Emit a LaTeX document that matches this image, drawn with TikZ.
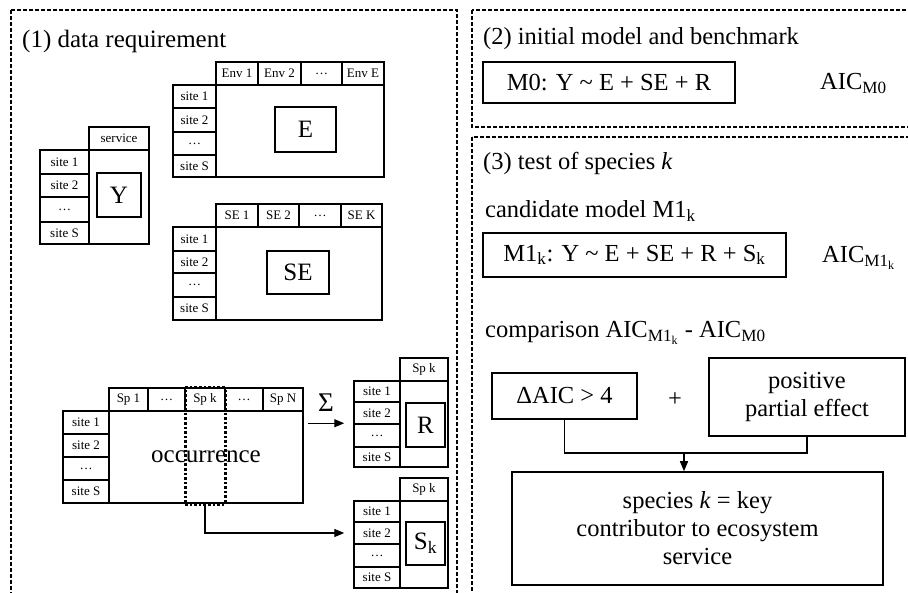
\documentclass[tikz,border=0pt]{standalone}
\usepackage{fontspec}
\setmainfont{Liberation Serif}
\usetikzlibrary{arrows.meta}
\tikzset{
  panel/.style={draw, line width=1.1pt, dash pattern=on 4pt off 2pt},
  cell/.style={draw, line width=1.5pt, inner sep=0pt, font=\fontsize{13}{15}\selectfont},
  bigtxt/.style={font=\fontsize{25}{28}\selectfont},
  txt/.style={font=\fontsize{24.5}{28}\selectfont, inner sep=0pt},
  modelbox/.style={draw, line width=1.5pt, inner sep=0pt, font=\fontsize{24.5}{28}\selectfont, align=center},
  spkcol/.style={draw, line width=3pt, dash pattern=on 2.6pt off 2pt, inner sep=0pt},
  conn/.style={line width=1.4pt},
  arr/.style={line width=1.4pt, -{Triangle[length=10pt,width=8pt]}}
}
\newcommand\cellbox[7][cell]{%
  \node[#1, minimum width={(#5-#3)*1pt}, minimum height={(#6-#4)*1pt}] (#2) at ({(#3+#5)/2},{(#4+#6)/2}) {#7};}
\begin{document}
\begin{tikzpicture}[x=1pt,y=-1pt]
\useasboundingbox (0,0) rectangle (908,593);
\clip (0,0) rectangle (908,593);
% panels
\draw[panel] (11,10) rectangle (457,610);
\draw[panel] (472,10) rectangle (920,127);
\draw[panel] (472,137) rectangle (920,610);
% (1) title
\node[txt, anchor=base west, font=\fontsize{25}{28}\selectfont] (t1) at (22,48) {(1) data requirement};
% Y table
\cellbox{Y-h}{89}{127}{149}{150}{service}
\cellbox{Y-s1}{40}{150}{89}{174}{site 1}
\cellbox{Y-s2}{40}{174}{89}{197}{site 2}
\cellbox{Y-s3}{40}{197}{89}{222}{…}
\cellbox{Y-s4}{40}{222}{89}{244}{site S}
\cellbox{Y-b}{89}{150}{149}{244}{}
\cellbox[cell,bigtxt]{Y-in}{97}{173}{141}{217}{Y}
% E table
\cellbox{E-h1}{216}{62}{258}{85}{Env 1}
\cellbox{E-h2}{258}{62}{301}{85}{Env 2}
\cellbox{E-h3}{301}{62}{342}{85}{…}
\cellbox{E-h4}{342}{62}{384}{85}{Env E}
\cellbox{E-s1}{173}{85}{216}{108}{site 1}
\cellbox{E-s2}{173}{108}{216}{132}{site 2}
\cellbox{E-s3}{173}{132}{216}{155}{…}
\cellbox{E-s4}{173}{155}{216}{177}{site S}
\cellbox{E-b}{216}{85}{384}{177}{}
\cellbox[cell,bigtxt]{E-in}{275}{107}{336}{152}{E}
% SE table
\cellbox{SE-h1}{216}{204}{258}{227}{SE 1}
\cellbox{SE-h2}{258}{204}{299}{227}{SE 2}
\cellbox{SE-h3}{299}{204}{341}{227}{…}
\cellbox{SE-h4}{341}{204}{382}{227}{SE K}
\cellbox{SE-s1}{173}{227}{216}{251}{site 1}
\cellbox{SE-s2}{173}{251}{216}{273}{site 2}
\cellbox{SE-s3}{173}{273}{216}{297}{…}
\cellbox{SE-s4}{173}{297}{216}{320}{site S}
\cellbox{SE-b}{216}{227}{382}{320}{}
\cellbox[cell,bigtxt]{SE-in}{267}{251}{329}{294}{SE}
% occurrence table
\cellbox{O-h1}{109}{388}{148}{411}{Sp 1}
\cellbox{O-h2}{148}{388}{185}{411}{…}
\cellbox{O-h3}{185}{388}{225}{411}{Sp k}
\cellbox{O-h4}{225}{388}{263}{411}{…}
\cellbox{O-h5}{263}{388}{303}{411}{Sp N}
\cellbox{O-s1}{63}{411}{109}{434}{site 1}
\cellbox{O-s2}{63}{434}{109}{457}{site 2}
\cellbox{O-s3}{63}{457}{109}{480}{…}
\cellbox{O-s4}{63}{480}{109}{503}{site S}
\cellbox[cell,bigtxt]{O-b}{109}{411}{303}{503}{occurrence}
\cellbox[spkcol]{spk}{185}{388}{225}{504}{}
% R table
\cellbox{R-h}{400}{358}{448}{381}{Sp k}
\cellbox{R-s1}{354}{381}{400}{402}{site 1}
\cellbox{R-s2}{354}{402}{400}{424}{site 2}
\cellbox{R-s3}{354}{424}{400}{447}{…}
\cellbox{R-s4}{354}{447}{400}{467}{site S}
\cellbox{R-b}{400}{381}{448}{467}{}
\cellbox[cell,bigtxt]{R-in}{406}{403}{445}{447}{R}
% Sk table
\cellbox{S-h}{400}{478}{448}{501}{Sp k}
\cellbox{S-s1}{354}{501}{400}{522}{site 1}
\cellbox{S-s2}{354}{522}{400}{544}{site 2}
\cellbox{S-s3}{354}{544}{400}{567}{…}
\cellbox{S-s4}{354}{567}{400}{588}{site S}
\cellbox{S-b}{400}{501}{448}{588}{}
\cellbox[cell,bigtxt]{S-in}{406}{522}{445}{565}{S\textsubscript{k}}
% arrows left
\draw[arr] ([xshift=4pt]O-b.east |- R-s3.north) -- node[midway, above=11pt, bigtxt, font=\fontsize{27}{30}\selectfont, inner sep=0pt] (sig) {Σ} ([xshift=-9pt]R-s3.north west);
\draw[arr] (spk.south) |- ([xshift=-9pt]S-s2.west);
% (2) panel
\node[txt, anchor=base west] (t2) at (483,45) {(2) initial model and benchmark};
\cellbox[modelbox]{m0}{483}{62}{735}{103}{M0: Y \textasciitilde{} E + SE + R}
\node[txt, anchor=base west] (aic0) at (820,90) {AIC\textsubscript{M0}};
% (3) panel
\node[txt, anchor=base west] (t3) at (483,170) {(3) test of species \textit{k}};
\node[txt, anchor=base west] (cand) at (485,218) {candidate model M1\textsubscript{k}};
\cellbox[modelbox]{m1}{483}{233}{786}{277}{M1\textsubscript{k}: Y \textasciitilde{} E + SE + R + S\textsubscript{k}}
\node[txt, anchor=base west] (aic1) at (822,263) {AIC\textsubscript{M1\textsubscript{k}}};
\node[txt, anchor=base west] (comp) at (485,338) {comparison AIC\textsubscript{M1\textsubscript{k}} - AIC\textsubscript{M0}};
\cellbox[modelbox]{daic}{492}{373}{637}{419}{ΔAIC > 4}
\node[txt] (plus) at (675,400) {+};
\cellbox[modelbox]{pos}{709}{358}{905}{436}{positive\\partial effect}
\cellbox[modelbox]{res}{512}{472}{883}{585}{species \textit{k} = key\\contributor to ecosystem\\service}
\coordinate (j) at (684,453);
\draw[conn] (daic.south) |- (j) -| (pos.south);
\draw[arr] (j) -- (j |- res.north);
\end{tikzpicture}
\end{document}
